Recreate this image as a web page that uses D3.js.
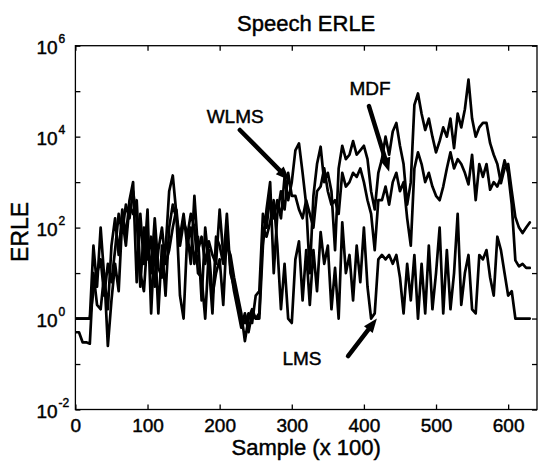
<!DOCTYPE html>
<html>
<head>
<meta charset="utf-8">
<script src="https://cdn.jsdelivr.net/npm/d3@7"></script>
<style>
  html, body { margin: 0; padding: 0; background: #fff; }
  svg { display: block; }
  text { font-family: Arial, "Liberation Sans", Helvetica, sans-serif; fill: #000; stroke: #000; stroke-width: 0.45px; }
</style>
</head>
<body>
<svg id="chart" width="539" height="463"></svg>
<script>
// ---- data (sample index in units of 100 samples; ERLE values) ----
const samples = d3.range(0, 631, 5);
const mdf = [1,1,1,1,1,40,5,100,8,1.6,40,160,25,250,63,400,1000,6.3,200,16,250,1.3,63,1.3,40,3.2,100,320,160,63,200,40,100,16,63,2.5,100,16,1.3,63,40,16,200,10,5,2,1,0.8,1.3,0.8,3.2,4,200,100,500,160,400,160,1300,400,1000,5000,7100,1600,320,10,500,2500,6000,1000,1600,630,32,2000,6300,3200,4000,8000,4000,5000,6300,3200,630,250,1600,3200,10000,4000,13000,20000,6300,2500,320,1000,50000,89000,32000,14000,25000,10000,4500,8000,16000,10000,25000,5600,32000,16000,40000,180000,25000,10000,16000,20000,20000,7200,4000,2500,950,2000,2500,630,170,100,76,100,130];
const wlms = [1,1,1,1,1,4,10,20,3.2,16,6.3,32,200,80,320,160,630,160,5,100,20,63,5,32,100,16,32,100,250,40,130,80,16,500,32,63,16,50,25,16,250,25,40,25,8,3.2,1.3,0.32,1,1.6,1,1,40,250,1000,10,200,630,250,1600,500,500,250,160,400,200,100,630,800,2000,630,320,400,200,1600,800,1000,1600,1300,2000,1000,400,200,32,400,400,800,320,1000,1600,630,1000,160,40,2000,4500,2500,1000,1600,800,500,400,800,2000,4500,2000,3200,2500,1600,890,4000,400,2500,1300,2500,680,1000,800,1300,3000,1600,320,19,14,16,13,13];
const lms = [0.5,0.5,0.3,0.3,0.28,10,2,1.6,10,0.25,2.5,16,4,160,40,320,200,400,10,4,63,10,160,13,8,32,630,1400,200,3.2,1,63,200,100,10,8,1,32,3.2,10,20,2,80,13,4,1.6,0.63,1.3,0.5,1.3,1,1.3,100,63,130,400,40,1.6,16,1,0.8,20,50,2.5,32,2,32,4,80,16,40,1.6,13,1,130,10,25,2.5,40,6.3,100,5,1,1.3,20,25,20,25,16,25,8,1.3,16,2.5,25,1,16,1.3,40,1.6,10,100,1.3,32,1.6,10,200,2,10,25,1.6,1.3,25,20,32,8,3.2,63,32,10,3.2,4,1,1,1,1,1];
const xTicks = [0, 100, 200, 300, 400, 500, 600];
const yTicks = [1e-2, 1e-1, 1e0, 1e1, 1e2, 1e3, 1e4, 1e5, 1e6];
const yLabelExps = [-2, 0, 2, 4, 6];
const titleText = "Speech ERLE";
const xLabelText = "Sample (x 100)";
const yLabelText = "ERLE";
// annotations: [label, text position (sample, ERLE), arrow start, arrow tip]
const annotNames = ["WLMS", "MDF", "LMS"];
const annotText = [[182, 2.0e4], [380, 8.3e4], [287, 0.095]];
const arrowFrom = [[228, 1.4e4], [407, 4.7e4], [378, 0.15]];
const arrowTo = [[297, 1.1e3], [435, 1.7e3], [418, 1.0]];

// ---- layout ----
const svg = d3.select("#chart");
const L = 75.4, R = 537, T = 45.7, B = 409.5;
const x = d3.scaleLinear().domain([0, 640]).range([L, R]);
const y = d3.scaleLog().domain([1e-2, 1e6]).range([B, T]);

// frame
svg.append("rect").attr("x", L).attr("y", T).attr("width", R - L).attr("height", B - T)
  .attr("fill", "none").attr("stroke", "#000").attr("stroke-width", 1.3);

// bottom axis
const gx = svg.append("g").attr("transform", `translate(0,${B})`)
  .call(d3.axisBottom(x).tickValues(xTicks).tickSizeInner(-5).tickSizeOuter(0).tickPadding(9).tickFormat(d3.format("d")));
gx.select(".domain").remove();
gx.selectAll("text").attr("font-size", 19).attr("font-family", "Arial, 'Liberation Sans', sans-serif");
gx.selectAll("line").attr("stroke-width", 1.3);

// top axis ticks
const gxt = svg.append("g").attr("transform", `translate(0,${T})`)
  .call(d3.axisTop(x).tickValues(xTicks).tickSizeInner(-5).tickSizeOuter(0).tickFormat(""));
gxt.select(".domain").remove();
gxt.selectAll("line").attr("stroke-width", 1.3);

// left axis
const gy = svg.append("g").attr("transform", `translate(${L},0)`)
  .call(d3.axisLeft(y).tickValues(yTicks).tickSizeInner(-5).tickSizeOuter(0).tickFormat(""));
gy.select(".domain").remove();
gy.selectAll("line").attr("stroke-width", 1.3);
gy.selectAll(".tick").each(function(d) {
  const e = Math.round(Math.log10(d));
  if (!yLabelExps.includes(e)) return;
  const t = d3.select(this).append("text")
    .attr("x", -39).attr("y", 8).attr("text-anchor", "start")
    .attr("font-size", 19).attr("fill", "#000");
  t.append("tspan").text("10");
  t.append("tspan").attr("dy", -11).attr("dx", 1).attr("font-size", 12).text(String(e));
});

// right axis ticks
const gyr = svg.append("g").attr("transform", `translate(${R},0)`)
  .call(d3.axisRight(y).tickValues(yTicks).tickSizeInner(-5).tickSizeOuter(0).tickFormat(""));
gyr.select(".domain").remove();
gyr.selectAll("line").attr("stroke-width", 1.3);

// lines
const clip = svg.append("clipPath").attr("id", "clip").append("rect")
  .attr("x", L).attr("y", T).attr("width", R - L).attr("height", B - T);
const line = d3.line().x((d, i) => x(samples[i])).y(d => y(d));
const seriesList = [lms, wlms, mdf];
svg.append("g").attr("clip-path", "url(#clip)")
  .selectAll("path").data(seriesList).join("path")
  .attr("d", d => line(d))
  .attr("fill", "none").attr("stroke", "#000").attr("stroke-width", 2.7)
  .attr("stroke-linejoin", "round").attr("stroke-linecap", "round");

// annotations
annotNames.forEach((name, i) => {
  svg.append("text").attr("x", x(annotText[i][0])).attr("y", y(annotText[i][1]))
    .attr("font-size", 19).text(name);
  const x0 = x(arrowFrom[i][0]), y0 = y(arrowFrom[i][1]);
  const x1 = x(arrowTo[i][0]), y1 = y(arrowTo[i][1]);
  const ang = Math.atan2(y1 - y0, x1 - x0);
  const hl = 14, hw = 5.5;
  const bx = x1 - hl * Math.cos(ang), by = y1 - hl * Math.sin(ang);
  svg.append("line").attr("x1", x0).attr("y1", y0).attr("x2", bx).attr("y2", by)
    .attr("stroke", "#000").attr("stroke-width", 4.5).attr("stroke-linecap", "round");
  const px = -Math.sin(ang), py = Math.cos(ang);
  svg.append("path")
    .attr("d", `M${x1},${y1}L${bx + hw * px},${by + hw * py}L${bx - hw * px},${by - hw * py}Z`)
    .attr("fill", "#000");
});

// title and labels
svg.append("text").attr("x", (L + R) / 2).attr("y", 31).attr("text-anchor", "middle")
  .attr("font-size", 22).text(titleText);
svg.append("text").attr("x", (L + R) / 2).attr("y", 455).attr("text-anchor", "middle")
  .attr("font-size", 22).text(xLabelText);
svg.append("text").attr("transform", "translate(28,232) rotate(-90)").attr("text-anchor", "middle")
  .attr("font-size", 23).text(yLabelText);
</script>
</body>
</html>
